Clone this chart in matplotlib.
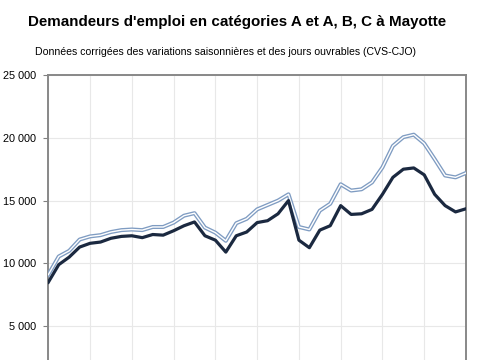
import numpy as np
import matplotlib
matplotlib.use("Agg")
import matplotlib.pyplot as plt
from matplotlib.ticker import FuncFormatter

# trimestres (10 ans, 41 points)
cat_a = [8500, 9900, 10500, 11300, 11600, 11700, 12000, 12150, 12200, 12050,
         12300, 12250, 12600, 13000, 13300, 12200, 11850, 10900, 12200, 12500,
         13250, 13400, 13950, 15000, 11850, 11250, 12650, 13000, 14600, 13900,
         13950, 14300, 15500, 16850, 17500, 17600, 17050, 15500, 14600, 14100,
         14350]
cat_abc = [9100, 10550, 11000, 11900, 12150, 12250, 12500, 12650, 12700, 12650,
           12900, 12900, 13250, 13800, 14000, 12850, 12450, 11800, 13200, 13550,
           14300, 14650, 15000, 15500, 12900, 12700, 14200, 14750, 16300, 15800,
           15900, 16450, 17650, 19350, 20050, 20250, 19550, 18300, 17000, 16850,
           17200]
y_ticks = [5000, 10000, 15000, 20000, 25000]

plt.rcParams['font.family'] = ['Liberation Sans', 'DejaVu Sans']

fig = plt.figure(figsize=(4.85, 3.6), dpi=100)
ax = fig.add_axes([0.0996, -0.0806, 0.8612, 0.8723])

x = np.arange(len(cat_a))
# ligne double (A, B, C)
ax.plot(x, cat_abc, color='#7f9cc2', linewidth=2.9, solid_joinstyle='round', zorder=3)
ax.plot(x, cat_abc, color='white', linewidth=1.0, solid_joinstyle='round', zorder=4)
# catégorie A
ax.plot(x, cat_a, color='#1b2940', linewidth=2.3, solid_joinstyle='round', zorder=5)

ax.set_xlim(0, len(cat_a) - 1)
ax.set_ylim(0, 25000)
ax.set_xticks(np.arange(0, len(cat_a), 4))
ax.set_xticklabels([])
ax.tick_params(axis='x', length=0)
ax.set_yticks(y_ticks)
ax.yaxis.set_major_formatter(FuncFormatter(lambda v, p: f"{int(v):,}".replace(',', ' ')))
ax.tick_params(axis='y', labelsize=7.8, length=3.5, width=0.8, color='#808080', pad=5.5)
ax.grid(True, color='#e8e8e8', linewidth=0.8)
ax.set_axisbelow(True)
for s in ['left', 'right', 'top', 'bottom']:
    ax.spines[s].set_color('#888888')
    ax.spines[s].set_linewidth(1.4)

fig.text(0.058, 0.938, "Demandeurs d'emploi en catégories A et A, B, C à Mayotte",
         fontsize=10.9, weight='bold', va='center')
fig.text(0.072, 0.855, "Données corrigées des variations saisonnières et des jours ouvrables (CVS-CJO)",
         fontsize=7.55, va='center')

fig.savefig('out.png', dpi=100)
